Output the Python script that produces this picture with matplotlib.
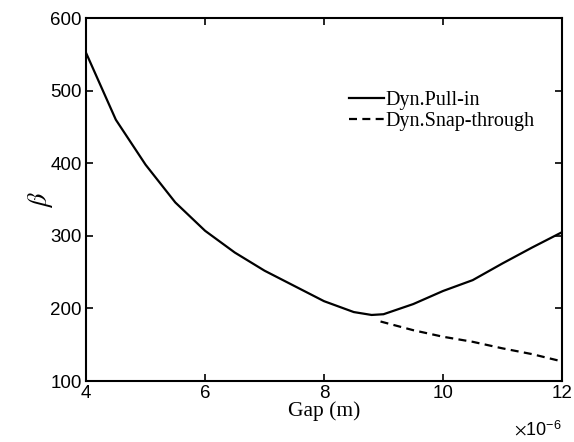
import matplotlib
matplotlib.use('Agg')
import matplotlib.pyplot as plt
import numpy as np

plt.rcParams['mathtext.fontset'] = 'stix'

# gap in micrometres (axis shows x 1e-6)
gap_pull = [4.0, 4.5, 5.0, 5.5, 6.0, 6.5, 7.0, 7.5, 8.0, 8.5, 8.8, 9.0, 9.5, 10.0, 10.5, 11.0, 11.5, 12.0]
beta_pull = [552, 460, 398, 346, 307, 277, 252, 231, 210, 195, 191, 192, 206, 224, 239, 262, 284, 305]

gap_snap = [8.95, 9.5, 10.0, 10.5, 11.0, 11.5, 12.0]
beta_snap = [182, 170, 161, 154, 145, 137, 127]

fig = plt.figure(figsize=(5.74, 4.42), dpi=100)
ax = fig.add_axes([0.150, 0.138, 0.829, 0.821])

ax.plot(gap_pull, beta_pull, 'k-', lw=1.6, label='Dyn.Pull-in')
ax.plot(gap_snap, beta_snap, 'k--', lw=1.6, dashes=(3.6, 2.4), label='Dyn.Snap-through')

ax.set_xlim(4, 12)
ax.set_ylim(100, 600)
ax.set_xticks([4, 6, 8, 10, 12])
ax.set_yticks([100, 200, 300, 400, 500, 600])
ax.tick_params(direction='in', top=True, right=True, length=5, width=1.2, labelsize=13.5, pad=3)
for lab in ax.get_xticklabels() + ax.get_yticklabels():
    lab.set_family('Liberation Sans')
for sp in ax.spines.values():
    sp.set_linewidth(1.5)

ax.set_xlabel('Gap (m)', family='Liberation Serif', fontsize=15.5, labelpad=-1)
ax.set_ylabel(r'$\beta$', fontsize=19, labelpad=-3)

fig.text(0.979, 0.006, r'$\times$10$^{\mathregular{-6}}$', ha='right', va='bottom',
         family='Liberation Sans', fontsize=13)

leg = ax.legend(loc='upper right', bbox_to_anchor=(0.98, 0.85), frameon=False,
                prop={'family': 'Liberation Serif', 'size': 14.5},
                handlelength=1.75, handletextpad=0.05, labelspacing=0.12)

fig.savefig('out.png', dpi=100)
